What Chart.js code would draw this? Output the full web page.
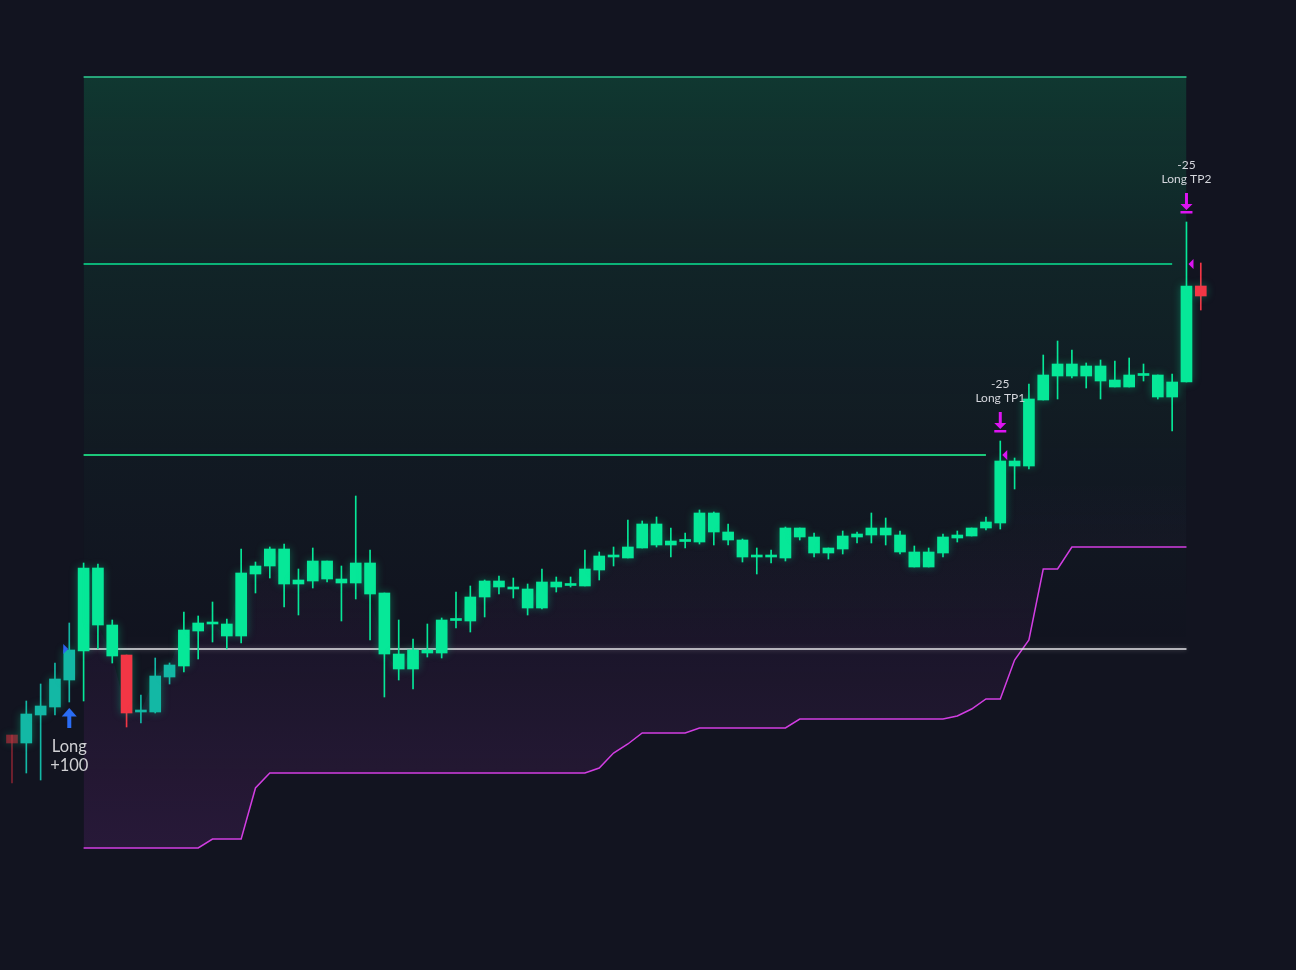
<!DOCTYPE html>
<html>
<head>
<meta charset="utf-8">
<script src="https://cdn.jsdelivr.net/npm/chart.js@4.4.0/dist/chart.umd.min.js"></script>
<style>
  html, body { margin: 0; padding: 0; background: #121420; }
  #wrap { width: 1296px; height: 970px; position: relative; }
</style>
</head>
<body>
<div id="wrap"><canvas id="chart"></canvas></div>
<script>
// 캔들 데이터 (OHLC)
var opens = [26.5,25.7,28.5,29.3,32.0,34.9,43.2,37.5,34.5,28.8,
  28.8,32.3,33.4,36.9,37.7,37.6,36.4,42.6,43.4,45.1,
  41.6,41.9,43.9,42.1,41.7,43.7,40.7,34.6,33.1,35.0,
  34.7,38.0,37.9,40.3,41.9,41.3,41.1,39.2,41.8,41.5,
  41.4,43.0,44.4,44.2,45.2,47.6,45.5,45.9,45.8,48.7,
  46.8,46.0,44.3,44.4,44.2,47.2,46.3,44.7,45.1,46.3,
  46.5,47.2,46.5,44.8,43.3,44.7,46.2,46.4,47.2,47.7,
  53.9,53.4,60.0,62.4,63.6,62.4,63.4,62.0,61.3,62.5,
  62.5,60.3,61.8,71.4];
var highs = [26.5,29.9,31.6,33.7,37.7,43.7,43.6,38.0,34.5,30.5,
  34.2,33.7,38.8,38.4,39.8,38.1,45.1,43.8,45.3,45.6,
  43.1,45.2,43.9,43.4,50.4,45.0,40.7,38.0,36.1,37.6,
  38.2,40.8,41.4,42.0,42.4,42.2,41.6,43.1,42.3,42.3,
  45.0,44.8,45.3,48.0,47.9,48.3,47.2,46.7,49.0,48.8,
  47.6,46.1,45.2,45.0,47.3,47.2,46.7,45.2,46.9,46.8,
  48.7,48.2,46.9,45.4,45.2,46.6,46.9,47.2,48.3,55.9,
  54.2,61.6,64.5,65.9,65.0,63.7,64.0,63.9,64.2,63.6,
  62.5,62.6,77.8,73.7];
var lows = [21.7,22.7,22.0,28.5,29.8,29.9,35.1,33.7,27.3,27.7,
  28.7,31.6,32.8,34.1,35.8,35.1,35.7,40.7,42.2,39.3,
  38.5,41.2,41.8,37.9,40.1,36.0,30.3,32.0,31.1,34.3,
  34.2,37.2,36.8,38.3,40.6,40.2,38.5,39.1,40.8,41.3,
  41.4,42.0,43.4,44.2,45.2,45.3,44.3,45.2,45.6,45.5,
  45.5,43.8,42.6,43.7,43.9,46.0,44.3,44.1,44.6,45.7,
  45.7,45.5,44.6,43.3,43.3,44.3,45.8,46.4,47.0,47.1,
  51.1,53.1,60.0,60.1,62.2,61.2,60.1,61.3,61.3,61.9,
  60.1,56.9,61.8,69.0];
var closes = [25.7,28.6,29.4,32.1,35.0,43.2,37.5,34.4,28.7,28.9,
  32.4,33.5,37.0,37.7,37.6,36.4,42.7,43.4,45.1,41.6,
  42.0,43.9,42.1,41.7,43.7,40.6,34.6,33.1,35.0,34.7,
  38.0,37.95,40.3,41.9,41.3,41.1,39.2,41.8,41.3,41.45,
  43.1,44.4,44.3,45.3,47.6,45.5,45.9,45.85,48.7,46.8,
  46.0,44.3,44.4,44.3,47.2,46.3,44.7,45.2,46.4,46.6,
  47.2,46.5,44.8,43.3,44.8,46.3,46.5,47.2,47.8,53.9,
  53.4,60.1,62.5,63.6,62.4,63.4,61.9,61.3,62.5,62.45,
  60.3,61.8,71.4,70.4];
// 캔들 상태: x=흐린 빨강, t=청록, g=초록, r=빨강
var candleState = ["x","t","t","t","t","g","g","g","r","t",
  "t","t","g","g","g","g","g","g","g","g",
  "g","g","g","g","g","g","g","g","g","g",
  "g","g","g","g","g","g","g","g","g","g",
  "g","g","g","g","g","g","g","g","g","g",
  "g","g","g","g","g","g","g","g","g","g",
  "g","g","g","g","g","g","g","g","g","g",
  "g","g","g","g","g","g","g","g","g","g",
  "g","g","g","r"];
// 트레일링 스탑
var stopLine = [null,null,null,null,null,15.2,15.2,15.2,15.2,15.2,
  15.2,15.2,15.2,15.2,16.1,16.1,16.1,21.2,22.7,22.7,
  22.7,22.7,22.7,22.7,22.7,22.7,22.7,22.7,22.7,22.7,
  22.7,22.7,22.7,22.7,22.7,22.7,22.7,22.7,22.7,22.7,
  22.7,23.2,24.7,25.6,26.7,26.7,26.7,26.7,27.2,27.2,
  27.2,27.2,27.2,27.2,27.2,28.1,28.1,28.1,28.1,28.1,
  28.1,28.1,28.1,28.1,28.1,28.1,28.4,29.1,30.1,30.1,
  34.0,36.0,43.1,43.1,45.3,45.3,45.3,45.3,45.3,45.3,
  45.3,45.3,45.3,null];

// 포지션 레벨
var entryPrice = 35.1;
var tp1Price = 54.5;
var tp2Price = 73.6;
var zoneTop = 92.3;
var entryIndex = 5, lastIndex = 82;
var signalIndex = 4, tp1Index = 69, tp2Index = 82;

var colorMap = {
  x: "rgba(200,45,60,0.6)",
  t: "#13B8A5",
  g: "#06E898",
  r: "#F23645"
};

function levelLine(price, from, to) {
  return [{ x: from, y: price }, { x: to, y: price }];
}

var wickData = [], bodyData = [], candleColors = [];
for (var i = 0; i < opens.length; i++) {
  wickData.push({ x: i, y: [lows[i], highs[i]] });
  bodyData.push({ x: i, y: [opens[i], closes[i]] });
  candleColors.push(colorMap[candleState[i]]);
}
var stopData = [], closeData = [];
for (var i = 0; i < stopLine.length; i++) {
  if (stopLine[i] === null) continue;
  stopData.push({ x: i, y: stopLine[i] });
  closeData.push({ x: i, y: closes[i] });
}

function zoneFill(c) {
  var ch = c.chart;
  if (!ch.chartArea) return "rgba(10,210,120,0.08)";
  var ys = ch.scales.y;
  var g = ch.ctx.createLinearGradient(0, ys.getPixelForValue(zoneTop), 0, ys.getPixelForValue(entryPrice));
  g.addColorStop(0, "rgba(10,210,120,0.19)");
  g.addColorStop(0.33, "rgba(10,210,120,0.085)");
  g.addColorStop(0.66, "rgba(10,210,120,0.03)");
  g.addColorStop(1, "rgba(10,210,120,0)");
  return g;
}

function stopFill(c) {
  var ch = c.chart;
  if (!ch.chartArea) return "rgba(190,60,220,0.06)";
  var g = ch.ctx.createLinearGradient(0, 480, 0, 850);
  g.addColorStop(0, "rgba(190,60,220,0)");
  g.addColorStop(0.3, "rgba(190,60,220,0.035)");
  g.addColorStop(1, "rgba(190,60,220,0.13)");
  return g;
}

// 글로우 효과
var glowPlugin = {
  id: "glow",
  beforeDatasetDraw: function (chart, args) {
    var ds = chart.data.datasets[args.index];
    if (ds.glow) {
      chart.ctx.save();
      chart.ctx.shadowColor = ds.glow;
      chart.ctx.shadowBlur = ds.glowBlur || 7;
    }
  },
  afterDatasetDraw: function (chart, args) {
    if (chart.data.datasets[args.index].glow) chart.ctx.restore();
  }
};

function tpMarker(ctx, x, yHigh, yLevel, title) {
  var mag = "#DC14F2";
  var bar = yHigh - 11;
  ctx.fillStyle = mag;
  ctx.fillRect(x - 1.5, bar - 18, 3, 11);
  ctx.beginPath();
  ctx.moveTo(x - 6, bar - 7);
  ctx.lineTo(x + 6, bar - 7);
  ctx.lineTo(x, bar - 1);
  ctx.closePath();
  ctx.fill();
  ctx.fillRect(x - 6, bar, 12, 2.5);
  // 왼쪽 삼각형
  ctx.beginPath();
  ctx.moveTo(x + 2, yLevel);
  ctx.lineTo(x + 7, yLevel - 5);
  ctx.lineTo(x + 7, yLevel + 5);
  ctx.closePath();
  ctx.fill();
  ctx.fillStyle = "#D4D6DC";
  ctx.font = "12px Lato";
  ctx.textAlign = "center";
  ctx.textBaseline = "middle";
  ctx.fillText("-25", x, yHigh - 57);
  ctx.fillText(title, x, yHigh - 43);
}

var markerPlugin = {
  id: "markers",
  afterDatasetsDraw: function (chart) {
    var ctx = chart.ctx, xs = chart.scales.x, ys = chart.scales.y;
    ctx.save();
    // 진입 삼각형
    var ex = xs.getPixelForValue(signalIndex);
    var ey = ys.getPixelForValue(entryPrice);
    ctx.fillStyle = "#2B63F0";
    ctx.beginPath();
    ctx.moveTo(ex - 6, ey - 5);
    ctx.lineTo(ex - 1, ey);
    ctx.lineTo(ex - 6, ey + 5);
    ctx.closePath();
    ctx.fill();
    // 롱 화살표
    var ay = ys.getPixelForValue(lows[signalIndex]) + 6;
    ctx.fillStyle = "#2A6CF4";
    ctx.beginPath();
    ctx.moveTo(ex, ay);
    ctx.lineTo(ex + 7.5, ay + 8.5);
    ctx.lineTo(ex - 7.5, ay + 8.5);
    ctx.closePath();
    ctx.fill();
    ctx.fillRect(ex - 2, ay + 7, 4, 13);
    ctx.fillStyle = "#D0D0D4";
    ctx.font = "16.5px Lato";
    ctx.textAlign = "center";
    ctx.textBaseline = "middle";
    ctx.fillText("Long", ex, ay + 39);
    ctx.fillText("+100", ex, ay + 58);
    // TP 마커
    tpMarker(ctx, xs.getPixelForValue(tp1Index), ys.getPixelForValue(highs[tp1Index]), ys.getPixelForValue(tp1Price), "Long TP1");
    tpMarker(ctx, xs.getPixelForValue(tp2Index), ys.getPixelForValue(highs[tp2Index]), ys.getPixelForValue(tp2Price), "Long TP2");
    ctx.restore();
  }
};

var ctx = document.getElementById("chart").getContext("2d");
var chart = new Chart(ctx, {
  data: {
    datasets: [
      {
        type: "line",
        data: levelLine(zoneTop, entryIndex, lastIndex),
        borderColor: "#2FCF95",
        borderWidth: 1.5,
        pointRadius: 0,
        fill: { target: { value: entryPrice } },
        backgroundColor: zoneFill,
        order: 10
      },
      {
        type: "line",
        data: levelLine(tp2Price, entryIndex, tp2Index - 1),
        borderColor: "#0AE593",
        borderWidth: 1.4,
        pointRadius: 0,
        order: 9
      },
      {
        type: "line",
        data: levelLine(tp1Price, entryIndex, tp1Index - 1),
        borderColor: "#1CC77A",
        borderWidth: 1.8,
        pointRadius: 0,
        order: 9
      },
      {
        type: "line",
        data: stopData,
        borderColor: "#D23EE2",
        borderWidth: 1.5,
        pointRadius: 0,
        fill: "+1",
        backgroundColor: stopFill,
        order: 8
      },
      {
        type: "line",
        data: closeData,
        borderWidth: 0,
        borderColor: "rgba(0,0,0,0)",
        pointRadius: 0,
        order: 11
      },
      {
        type: "line",
        data: levelLine(entryPrice, entryIndex, lastIndex),
        borderColor: "#E4E4E8",
        borderWidth: 1.5,
        pointRadius: 0,
        glow: "rgba(255,255,255,0.35)",
        glowBlur: 5,
        order: 7
      },
      {
        type: "bar",
        data: wickData,
        backgroundColor: candleColors,
        barThickness: 1,
        grouped: false,
        minBarLength: 1,
        order: 2
      },
      {
        type: "bar",
        data: bodyData,
        backgroundColor: candleColors,
        barThickness: 11,
        grouped: false,
        minBarLength: 2,
        glow: "rgba(6,232,152,0.35)",
        glowBlur: 8,
        order: 1
      }
    ]
  },
  options: {
    responsive: true,
    maintainAspectRatio: false,
    animation: false,
    events: [],
    layout: { padding: 0 },
    plugins: { legend: { display: false }, tooltip: { enabled: false } },
    scales: {
      x: { type: "linear", min: -0.837, max: 89.647, offset: false, display: false },
      y: { type: "linear", min: 3, max: 100, display: false }
    }
  },
  plugins: [glowPlugin, markerPlugin]
});
</script>
</body>
</html>
